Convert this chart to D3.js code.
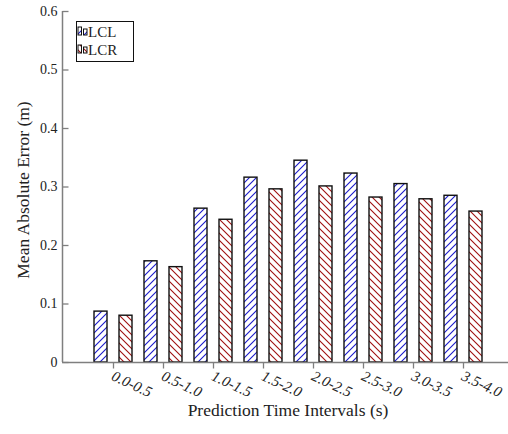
<!DOCTYPE html>
<html>
  <head>
    <title>Mean Absolute Error by Prediction Interval</title>
    <script src="https://d3js.org/d3.v7.min.js"></script>
    <style>
      body { margin: 0; background: white; }
    </style>
  </head>
  <body>
    <div id="chart"></div>
    <script>
      // Data
      const intervals = ["0.0-0.5", "0.5-1.0", "1.0-1.5", "1.5-2.0", "2.0-2.5", "2.5-3.0", "3.0-3.5", "3.5-4.0"];
      const lcl = [0.087, 0.173, 0.263, 0.316, 0.345, 0.323, 0.305, 0.285];
      const lcr = [0.080, 0.163, 0.244, 0.296, 0.301, 0.282, 0.279, 0.258];
      const yTicks = [0, 0.1, 0.2, 0.3, 0.4, 0.5, 0.6];
      const seriesNames = ["LCL", "LCR"];

      const width = 508, height = 434;
      const axisColor = "#7f7f7f";
      const serif = "'Liberation Serif', 'Times New Roman', Times, serif";

      const svg = d3.select("#chart").append("svg")
        .attr("width", width).attr("height", height)
        .style("font-family", serif);

      // hatch patterns
      const defs = svg.append("defs");
      function hatch(id, color, dir) {
        const p = defs.append("pattern")
          .attr("id", id)
          .attr("patternUnits", "userSpaceOnUse")
          .attr("width", 7).attr("height", 7);
        p.append("rect").attr("width", 7).attr("height", 7).attr("fill", "white");
        const d = dir > 0 ? "M-1,8 L8,-1 M-2,2 L2,-2 M5,9 L9,5" : "M-1,-1 L8,8 M-2,5 L2,9 M5,-2 L9,2";
        p.append("path").attr("d", d).attr("stroke", color).attr("stroke-width", 1.1);
      }
      hatch("hatchBlue", "#1a1acc", 1);
      hatch("hatchRed", "#a01010", -1);
      const fills = ["url(#hatchBlue)", "url(#hatchRed)"];

      // scales
      const x = d3.scaleLinear().domain([0, intervals.length - 1]).range([113, 463]);
      const y = d3.scaleLinear().domain([0, 0.6]).range([362, 11]);
      const barW = 13, offset = 12.5;

      // bars
      const series = [lcl, lcr];
      series.forEach((vals, s) => {
        svg.append("g").selectAll("rect")
          .data(vals)
          .enter()
          .append("rect")
          .attr("x", (d, i) => x(i) + (s === 0 ? -offset : offset) - barW / 2)
          .attr("y", d => y(d))
          .attr("width", barW)
          .attr("height", d => y(0) - y(d))
          .attr("fill", fills[s])
          .attr("stroke", "#111")
          .attr("stroke-width", 1.4);
      });

      // y axis
      const yAxis = svg.append("g")
        .attr("transform", "translate(62.5,0)")
        .call(d3.axisRight(y).tickValues(yTicks).tickSize(6).tickFormat(d => d === 0 ? "0" : d3.format(".1f")(d)));
      yAxis.attr("font-family", null);
      yAxis.select(".domain").attr("stroke", axisColor).attr("stroke-width", 1.5).attr("d", `M0,${y(0.6)}V${y(0)}`);
      yAxis.selectAll(".tick line").attr("stroke", axisColor).attr("stroke-width", 1.3);
      yAxis.selectAll(".tick text")
        .attr("x", -5).attr("text-anchor", "end")
        .attr("fill", "#222")
        .style("font-family", serif)
        .style("font-size", "14px");

      // x axis
      const xAxis = svg.append("g")
        .attr("transform", `translate(0,${y(0) + 0.5})`)
        .call(d3.axisBottom(x).tickValues(d3.range(intervals.length)).tickSize(6).tickFormat(i => intervals[i]));
      xAxis.attr("font-family", null);
      xAxis.select(".domain").attr("stroke", axisColor).attr("stroke-width", 1.5).attr("d", `M62,0H${width}`);
      xAxis.selectAll(".tick line").attr("stroke", axisColor).attr("stroke-width", 1.3);
      xAxis.selectAll(".tick text")
        .attr("y", 0).attr("dy", 0)
        .attr("text-anchor", "start")
        .attr("transform", "translate(-3,17) rotate(25)")
        .attr("fill", "#222")
        .style("font-family", serif)
        .style("font-size", "15px")
        .style("font-style", "italic");

      // axis titles
      svg.append("text")
        .attr("x", 288).attr("y", 416)
        .attr("text-anchor", "middle")
        .attr("fill", "#222")
        .style("font-size", "17.5px")
        .text("Prediction Time Intervals (s)");

      svg.append("text")
        .attr("transform", "translate(29,190) rotate(-90)")
        .attr("text-anchor", "middle")
        .attr("fill", "#222")
        .style("font-size", "17.5px")
        .text("Mean Absolute Error (m)");

      // legend
      const legend = svg.append("g");
      legend.append("rect")
        .attr("x", 76.5).attr("y", 21.5).attr("width", 57).attr("height", 40)
        .attr("fill", "white").attr("stroke", "#111").attr("stroke-width", 1);
      seriesNames.forEach((name, s) => {
        const ry = 27 + s * 18;
        legend.append("rect").attr("x", 78).attr("y", ry).attr("width", 3.5).attr("height", 8)
          .attr("fill", fills[s]).attr("stroke", "#111").attr("stroke-width", 1);
        legend.append("rect").attr("x", 83.5).attr("y", ry + 2).attr("width", 3.5).attr("height", 6)
          .attr("fill", fills[s]).attr("stroke", "#111").attr("stroke-width", 1);
        legend.append("text")
          .attr("x", 88).attr("y", ry + 9.5)
          .attr("fill", "#222")
          .style("font-size", "15px")
          .text(name);
      });
    </script>
  </body>
</html>
